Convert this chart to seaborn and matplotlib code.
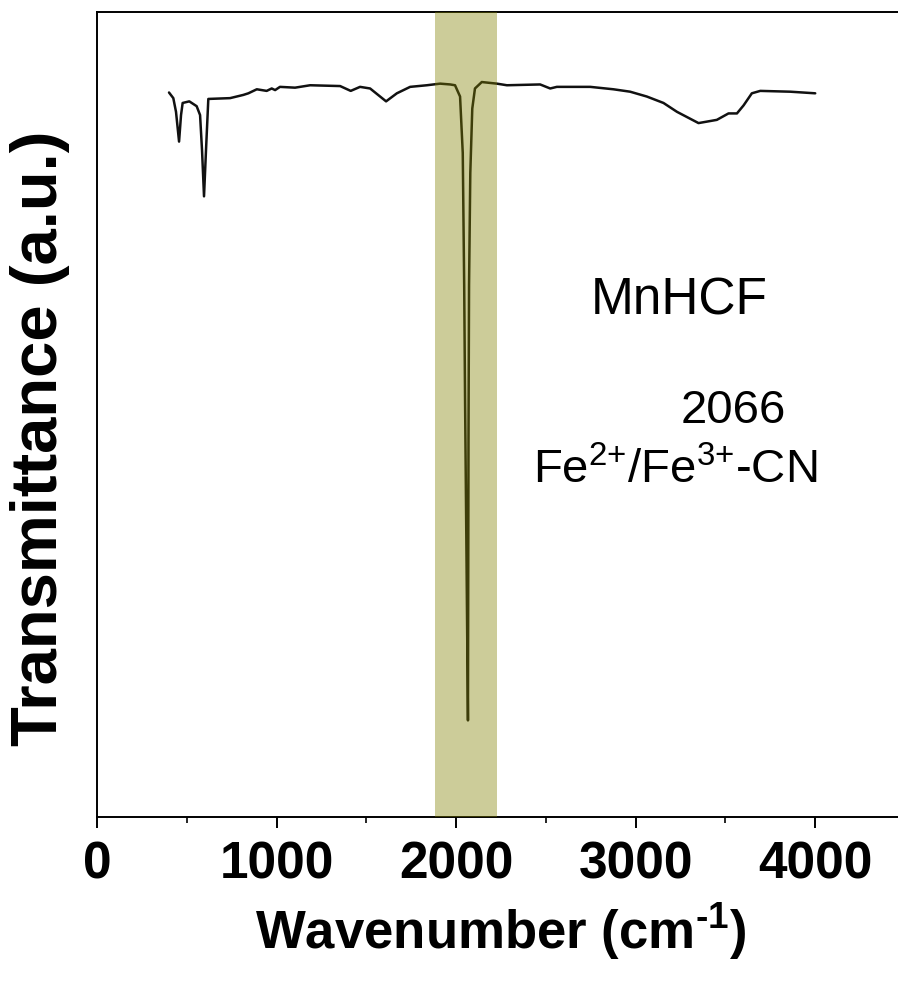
import matplotlib
matplotlib.use("Agg")
import matplotlib.pyplot as plt
import seaborn as sns
import pandas as pd

# FTIR spectrum of MnHCF (wavenumber in cm^-1, transmittance in arbitrary units)
wavenumber = [401, 425, 440, 457, 468, 477, 514, 555, 574, 585, 596, 607, 620,
              741, 815, 843, 890, 945, 973, 992, 1019, 1103, 1187, 1354, 1413,
              1465, 1521, 1610, 1670, 1744, 1837, 1911, 1967, 1994, 2022, 2037,
              2045, 2050, 2058, 2066, 2069, 2072, 2079, 2090, 2105, 2143, 2227,
              2283, 2468, 2524, 2561, 2747, 2876, 2969, 3062, 3155, 3230, 3350,
              3452, 3517, 3564, 3601, 3647, 3694, 3861, 4000]
transmittance = [90.0, 89.3, 87.6, 83.9, 87.2, 88.7, 88.9, 88.3, 87.2, 82.8, 77.1,
                 82.8, 89.2, 89.3, 89.7, 89.9, 90.4, 90.2, 90.5, 90.3, 90.7, 90.6,
                 90.9, 90.8, 90.2, 90.7, 90.5, 88.9, 89.9, 90.7, 90.9, 91.1, 91.0,
                 90.9, 89.5, 82.5, 66.0, 51.4, 32.0, 12.0, 47.0, 66.0, 80.0, 88.0,
                 90.5, 91.3, 91.1, 90.9, 91.0, 90.5, 90.7, 90.7, 90.4, 90.1, 89.5,
                 88.7, 87.6, 86.2, 86.6, 87.4, 87.4, 88.4, 89.9, 90.2, 90.1, 89.9]

# Highlighted cyanide stretching region
cn_band = [1880, 2230]
peak_label = "2066"
sample_name = "MnHCF"
assignment = r"Fe$^{\text{2+}}$/Fe$^{\text{3+}}$-CN"
x_ticks = [0, 1000, 2000, 3000, 4000]
x_minor = [500, 1500, 2500, 3500, 4500]

df = pd.DataFrame({"wavenumber": wavenumber, "transmittance": transmittance})

sns.set_theme(style="ticks")
plt.rcParams["font.family"] = ["Liberation Sans", "DejaVu Sans"]
plt.rcParams["mathtext.fontset"] = "custom"
plt.rcParams["mathtext.rm"] = "Liberation Sans"
plt.rcParams["mathtext.bf"] = "Liberation Sans:bold"
plt.rcParams["mathtext.default"] = "regular"

W, H = 898, 986
fig = plt.figure(figsize=(W / 100, H / 100), dpi=100)
left, right, top, bottom = 97, 905, 12, 817
ax = fig.add_axes([left / W, 1 - bottom / H, (right - left) / W, (bottom - top) / H])

sns.lineplot(data=df, x="wavenumber", y="transmittance", ax=ax,
             color="#111111", linewidth=1.8, estimator=None, sort=False, zorder=2)
ax.axvspan(cn_band[0], cn_band[1], color="olive", alpha=0.4, lw=0, zorder=3)

ax.set_xlim(0, 4500)
ax.set_ylim(0, 100)
ax.set_xticks(x_ticks)
ax.set_xticklabels([str(t) for t in x_ticks])
ax.set_xticks(x_minor, minor=True)
ax.set_yticks([])

for s in ax.spines.values():
    s.set_linewidth(1.4)
    s.set_color("black")

ax.tick_params(axis="x", which="major", direction="out", length=8, width=1.4,
               pad=9, labelsize=37, colors="black")
ax.tick_params(axis="x", which="minor", direction="out", length=4, width=1.4)
for lbl in ax.get_xticklabels():
    lbl.set_fontweight("bold")

ax.set_xlabel("Wavenumber (cm$^{\u20101}$)", fontsize=38, fontweight="bold",
              va="center", color="black")
ax.xaxis.set_label_coords(0.5, -0.143)
ax.set_ylabel("Transmittance (a.u.)", fontsize=47, fontweight="bold",
              va="center", color="black")
ax.yaxis.set_label_coords(-0.0705, 0.47)

ax.text(0.720, 0.624, sample_name, transform=ax.transAxes, fontsize=37,
        ha="center", va="baseline", color="black")
ax.text(0.787, 0.489, peak_label, transform=ax.transAxes, fontsize=34,
        ha="center", va="baseline", color="black")
ax.text(0.715, 0.415, assignment, transform=ax.transAxes, fontsize=34,
        ha="center", va="baseline", color="black")

fig.savefig("out.png", dpi=100)
